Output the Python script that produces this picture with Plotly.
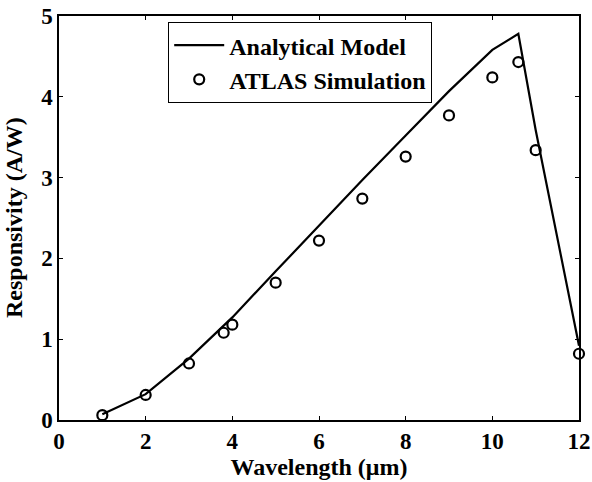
import plotly.graph_objects as go

# Analytical model (line)
model_wavelength = [1, 2, 3, 4, 5, 6, 7, 8, 9, 10, 10.6, 11, 12]
model_resp = [0.07, 0.32, 0.76, 1.27, 1.84, 2.41, 2.97, 3.52, 4.07, 4.58, 4.78, 3.59, 0.92]

# ATLAS simulation (circles)
sim_wavelength = [1, 2, 3, 3.8, 4, 5, 6, 7, 8, 9, 10, 10.6, 11, 12]
sim_resp = [0.06, 0.31, 0.70, 1.08, 1.18, 1.70, 2.22, 2.74, 3.26, 3.77, 4.24, 4.43, 3.34, 0.82]

x_ticks = [0, 2, 4, 6, 8, 10, 12]
y_ticks = [0, 1, 2, 3, 4, 5]

x_title = "Wavelength (μm)"
y_title = "Responsivity (A/W)"

FONT = "Liberation Serif"

fig = go.Figure()
fig.add_trace(go.Scatter(
    x=model_wavelength, y=model_resp, mode="lines",
    name="Analytical Model",
    line=dict(color="black", width=2.2),
))
fig.add_trace(go.Scatter(
    x=sim_wavelength, y=sim_resp, mode="markers",
    name="ATLAS Simulation", cliponaxis=False,
    marker=dict(symbol="circle-open", size=10, color="black",
                line=dict(width=2.2, color="black")),
))

axis_common = dict(
    showline=True, linecolor="black", linewidth=1.5, mirror="ticks",
    ticks="inside", ticklen=4, tickwidth=1, tickcolor="black",
    showgrid=False, zeroline=False, automargin=False,
    ticklabeloverflow="allow",
    tickfont=dict(family=FONT, size=23, color="black", weight="bold"),
)

fig.update_layout(
    width=592, height=482,
    margin=dict(l=59, r=13, t=16, b=62),
    paper_bgcolor="white", plot_bgcolor="white",
    font=dict(family=FONT, size=23, color="black", weight="bold"),
    showlegend=True,
    legend=dict(
        x=0.21, y=0.985, xanchor="left", yanchor="top",
        bgcolor="white", bordercolor="black", borderwidth=1,
        font=dict(family=FONT, size=24, color="black", weight="bold"),
        tracegroupgap=0, itemwidth=50,
    ),
    xaxis=dict(
        range=[0, 12], tickvals=x_ticks,
        title=dict(text=x_title, standoff=2,
                   font=dict(family=FONT, size=24, color="black", weight="bold")),
        **axis_common,
    ),
    yaxis=dict(
        range=[0, 5], tickvals=y_ticks,
        **axis_common,
    ),
    annotations=[dict(
        text=y_title, xref="paper", yref="paper", x=0, y=0.5,
        xanchor="center", yanchor="middle", xshift=-45, textangle=-90,
        showarrow=False,
        font=dict(family=FONT, size=24, color="black", weight="bold"),
    )],
)

fig.write_html(
    "out.html",
    config={"displayModeBar": False},
    post_script="document.body.style.margin='0';document.body.style.overflow='hidden';",
)
